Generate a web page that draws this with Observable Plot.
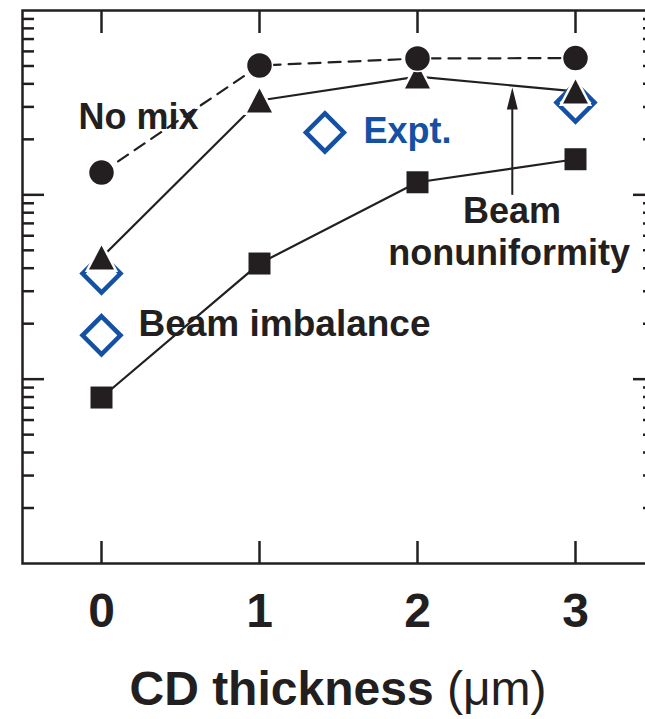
<!DOCTYPE html>
<html>
<head>
<meta charset="utf-8">
<script src="https://cdn.jsdelivr.net/npm/d3@7"></script>
<script src="https://cdn.jsdelivr.net/npm/@observablehq/plot@0.6"></script>
<style>
  html, body { margin: 0; padding: 0; background: #fff; overflow: hidden; }
  #wrap { position: relative; width: 645px; height: 719px; overflow: hidden; }
  #chart { position: absolute; left: 0; top: 0; width: 680px; }
  #chart svg { max-width: none !important; }
  #title {
    position: absolute; left: 0; top: 665px; width: 676px;
    text-align: center; white-space: nowrap; color: #231f20;
    font: bold 48px/48px "Liberation Sans", Arial, sans-serif;
  }
  #title span { font-weight: normal; }
</style>
</head>
<body>
<div id="wrap">
  <div id="chart"></div>
  <div id="title">CD thickness <span>(μm)</span></div>
</div>
<script>
// CD shell thickness (μm) for each simulated case
const thickness = [0, 1, 2, 3];
// Simulated yields (relative units, log scale)
const noMix = [132, 503, 549, 552];
const beamNonuniformity = [45.7, 325, 438, 364];
const beamImbalance = [7.95, 42.4, 117, 156];
// Measured yields
const exptThickness = [0, 0, 3];
const exptYield = [37.4, 17.3, 317];

// Tick values on the log axis
const majorTicks = [10, 100];
const minorTicks = [1, 10, 100].flatMap(d => [2, 3, 4, 5, 6, 7, 8, 9].map(k => k * d));

const ink = "#231f20";
const blue = "#1450a3";

// Custom marker shapes (size = π r²)
const radius = size => Math.sqrt(size / Math.PI);
const triangle = {
  draw(ctx, size) {
    const r = radius(size), h = r * 0.96;
    ctx.moveTo(0, -h); ctx.lineTo(r, h); ctx.lineTo(-r, h); ctx.closePath();
  }
};
const diamond = {
  draw(ctx, size) {
    const r = radius(size);
    ctx.moveTo(0, -r); ctx.lineTo(r, 0); ctx.lineTo(0, r); ctx.lineTo(-r, 0); ctx.closePath();
  }
};
const square = {
  draw(ctx, size) {
    const r = radius(size);
    ctx.rect(-r, -r, 2 * r, 2 * r);
  }
};
const arrowHead = {
  draw(ctx, size) {
    const r = radius(size);
    ctx.moveTo(0, 0); ctx.lineTo(r * 0.5, r * 2); ctx.lineTo(-r * 0.5, r * 2); ctx.closePath();
  }
};

const tickStyle = {strokeWidth: 2.5, stroke: ink, tickFormat: () => "", label: null};
const labelFont = {fontSize: 36, fontWeight: "bold", fill: ink};

const chart = Plot.plot({
  width: 680,
  height: 650,
  marginLeft: 22,
  marginRight: 26,
  marginTop: 10,
  marginBottom: 87,
  style: {fontFamily: "'Liberation Sans', Arial, sans-serif", fontWeight: "bold", color: ink, background: "#fff", maxWidth: "none"},
  x: {domain: [-0.5, 3.5]},
  y: {type: "log", domain: [1, 1000]},
  marks: [
    // inward ticks on all four sides
    Plot.axisY({...tickStyle, anchor: "left", ticks: majorTicks, tickSize: -22}),
    Plot.axisY({...tickStyle, anchor: "left", ticks: minorTicks, tickSize: -12}),
    Plot.axisY({...tickStyle, anchor: "right", ticks: majorTicks, tickSize: -22}),
    Plot.axisY({...tickStyle, anchor: "right", ticks: minorTicks, tickSize: -12}),
    Plot.axisX({...tickStyle, anchor: "bottom", ticks: thickness, tickSize: -22}),
    Plot.axisX({...tickStyle, anchor: "top", ticks: thickness, tickSize: -22}),
    Plot.axisX({anchor: "bottom", ticks: thickness, tickFormat: d => String(d), tickSize: 0, tickPadding: 29, fontSize: 48, fill: ink, label: null}),
    Plot.frame({stroke: ink, strokeWidth: 2.5}),

    // connecting lines
    Plot.line(thickness, {x: thickness, y: noMix, stroke: ink, strokeWidth: 2.2, strokeDasharray: "12,8"}),
    Plot.line(thickness, {x: thickness, y: beamNonuniformity, stroke: ink, strokeWidth: 2.2}),
    Plot.line(thickness, {x: thickness, y: beamImbalance, stroke: ink, strokeWidth: 2.2}),

    // experimental points
    Plot.dot(exptThickness, {x: exptThickness, y: exptYield, symbol: diamond, r: 19, fill: "none", stroke: blue, strokeWidth: 4.5}),

    // simulation markers (white halo under the filled shapes)
    Plot.dot(thickness, {x: thickness, y: beamNonuniformity, symbol: triangle, r: 12.5, fill: "#fff", stroke: "#fff", strokeWidth: 5}),
    Plot.dot(thickness, {x: thickness, y: beamNonuniformity, symbol: triangle, r: 12.5, fill: ink}),
    Plot.dot(thickness, {x: thickness, y: noMix, symbol: "circle", r: 13, fill: ink, stroke: "#fff", strokeWidth: 1.5}),
    Plot.dot(thickness, {x: thickness, y: beamImbalance, symbol: square, r: 11, fill: ink}),

    // key for the experimental points
    Plot.dot([0], {x: [1.414], y: [218], symbol: diamond, r: 19, fill: "none", stroke: blue, strokeWidth: 4.5}),
    Plot.text(["Expt."], {x: [1.658], y: [221], text: d => d, textAnchor: "start", fontSize: 36, fontWeight: "bold", fill: blue}),

    // series labels
    Plot.text(["No mix"], {x: [0.234], y: [264], text: d => d, textAnchor: "middle", ...labelFont}),
    Plot.text(["Beam imbalance"], {x: [0.234], y: [19.9], text: d => d, textAnchor: "start", ...labelFont, fontSize: 37}),
    Plot.text(["Beam"], {x: [2.598], y: [81.2], text: d => d, textAnchor: "middle", ...labelFont}),
    Plot.text(["nonuniformity"], {x: [2.58], y: [47.8], text: d => d, textAnchor: "middle", ...labelFont}),

    // pointer from the label to its curve
    Plot.link([0], {x1: [2.6], y1: [100], x2: [2.6], y2: [300], stroke: ink, strokeWidth: 2}),
    Plot.dot([0], {x: [2.6], y: [382], symbol: arrowHead, r: 11, fill: ink})
  ]
});

document.getElementById("chart").appendChild(chart);
</script>
</body>
</html>
